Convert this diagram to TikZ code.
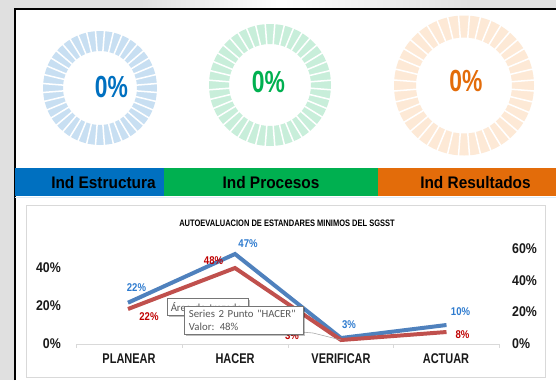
\documentclass[tikz,border=0pt]{standalone}
\usepackage{fontspec}
\setmainfont{Liberation Sans}
\newfontfamily\tipfont{Carlito}
\usetikzlibrary{shadows}
\definecolor{bggray}{HTML}{E0E0E0}
\definecolor{bluelt}{HTML}{C8DFF2}
\definecolor{greenlt}{HTML}{C8EEDA}
\definecolor{orangelt}{HTML}{FDE9D6}
\definecolor{dblue}{HTML}{0070C0}
\definecolor{dgreen}{HTML}{00B050}
\definecolor{dorange}{HTML}{E36C0A}
\definecolor{sblue}{HTML}{4F81BD}
\definecolor{sred}{HTML}{C0504D}
\definecolor{lblue}{HTML}{2E7BCF}
\definecolor{lred}{HTML}{C00000}
\definecolor{boxgray}{HTML}{D9D9D9}
\definecolor{tipgray}{HTML}{767676}
\definecolor{tiptext}{HTML}{575757}
\begin{document}
\begin{tikzpicture}[x=0.03cm, y=-0.03cm,
  pct/.style={font=\fontsize{26}{26}\selectfont\bfseries, xscale=0.75, inner sep=0pt},
  band/.style={font=\fontsize{14.3}{15}\selectfont\bfseries, xscale=0.92, inner sep=0pt},
  ax/.style={font=\fontsize{12}{12}\selectfont\bfseries, xscale=0.88, inner sep=0pt, text=black!90},
  cat/.style={font=\fontsize{12}{12}\selectfont\bfseries, xscale=0.78, inner sep=0pt, text=black!90},
  lbl/.style={font=\fontsize{9.6}{10}\selectfont\bfseries, xscale=0.85, inner sep=0pt},
  series/.style={line width=3.4pt, line join=miter},
  tip/.style={draw=tipgray, fill=white, font=\tipfont\fontsize{9.2}{11}\selectfont, text=tiptext, align=left, anchor=north west, drop shadow={shadow xshift=1.5pt, shadow yshift=-1.5pt, fill=black, opacity=0.25}}
]
\useasboundingbox (0,0) rectangle (556,380);
\fill[bggray] (0,0) rectangle (556,380);
\shade[left color=bggray, right color=white!95!bggray] (140,0) rectangle (280,9);
\shade[left color=white!95!bggray, right color=bggray] (280,0) rectangle (470,9);
\fill[white] (15,9) rectangle (556,380);
\draw[line width=1.4pt] (15,380) -- (15,9) -- (556,9);

\begin{scope}[shift={(100,88)}]
\fill[bluelt, even odd rule] (0,0) circle[radius=57] (0,0) circle[radius=37];
\foreach \a in {0,9,...,351} \draw[white, line width=1.3pt] (\a+4.5:36) -- (\a+4.5:58);
\end{scope}
\begin{scope}[shift={(270,85)}]
\fill[greenlt, even odd rule] (0,0) circle[radius=61] (0,0) circle[radius=41];
\foreach \a in {0,9,...,351} \draw[white, line width=1.3pt] (\a+4.5:40) -- (\a+4.5:62);
\end{scope}
\begin{scope}[shift={(464,85.5)}]
\fill[orangelt, even odd rule] (0,0) circle[radius=70] (0,0) circle[radius=48];
\foreach \a in {0,9,...,351} \draw[white, line width=1.3pt] (\a+4.5:47) -- (\a+4.5:71);
\end{scope}
\node[pct, text=dblue] (pctE) at (111.5,87) {0\%};
\node[pct, text=dgreen] (pctP) at (268.5,82.5) {0\%};
\node[pct, text=dorange] (pctR) at (466,81) {0\%};

\fill[dblue] (15,168) rectangle (164,196);
\fill[dgreen] (164,168) rectangle (378,196);
\fill[dorange] (378,168) rectangle (556,196);
\draw[bluelt!60] (15,197) -- (556,197);
\node[band] (bandE) at (103.5,183) {Ind Estructura};
\node[band] (bandP) at (271,183) {Ind Procesos};
\node[band] (bandR) at (475.5,183) {Ind Resultados};

\draw[boxgray, fill=white] (26,205) rectangle (545,377);
\node[font=\fontsize{8}{8}\selectfont\bfseries, xscale=0.8, inner sep=0pt] (title) at (287,223) {AUTOEVALUACION DE ESTANDARES MINIMOS DEL SGSST};

\node[ax, anchor=east] (l40) at (61,268) {40\%};
\node[ax, anchor=east] (l20) at (61,306) {20\%};
\node[ax, anchor=east] (l0) at (61,344) {0\%};
\node[ax, anchor=west] (r60) at (512,249) {60\%};
\node[ax, anchor=west] (r40) at (512,281) {40\%};
\node[ax, anchor=west] (r20) at (512,312) {20\%};
\node[ax, anchor=west] (r0) at (512,344) {0\%};

\draw[boxgray] (76,344) -- (499,344);
\foreach \x in {76,182,288,393,499} \draw[boxgray] (\x,344) -- (\x,348);
\node[cat] (cPlan) at (129,359) {PLANEAR};
\node[cat] (cHac) at (235,359) {HACER};
\node[cat] (cVer) at (341,359) {VERIFICAR};
\node[cat] (cAct) at (446,359) {ACTUAR};

\coordinate (b1) at (128,302.7);
\coordinate (b2) at (235,254);
\coordinate (b3) at (341,338);
\coordinate (b4) at (446.5,325);
\coordinate (r1) at (128,309);
\coordinate (r2) at (235,268);
\coordinate (r3v) at (341,340);
\coordinate (r4) at (446.5,332);
\draw[series, sblue] (b1) -- (b2) -- (b3) -- (b4);
\draw[series, sred] (r1) -- (r2) -- (r3v) -- (r4);

\node[lbl, text=lblue] (lb1) at (136.5,288) {22\%};
\node[lbl, text=lblue] (lb2) at (248,244) {47\%};
\node[lbl, text=lblue] (lb3) at (349,325) {3\%};
\node[lbl, text=lblue] (lb4) at (460.5,312) {10\%};
\node[lbl, text=lred] (lr1) at (149,317) {22\%};
\node[lbl, text=lred] (lr2) at (213.5,261) {48\%};
\node[lbl, text=lred] (lr3) at (292,336) {3\%};
\node[lbl, text=lred] (lr4) at (462.5,335) {8\%};
\coordinate (lead) at (313,333);
\draw[black!35, line width=0.5pt] (lr3.north east) -- (lead) -- (r3v);

\node[tip, inner xsep=3pt, text width=63pt, minimum height=13.7pt] (tipArea) at (167,298) {Área de trazado};
\node[tip, inner xsep=4pt, text width=93.6pt, minimum height=23pt] (tipSerie) at (184,306) {Series 2 Punto "HACER"\\Valor: 48\%};
\end{tikzpicture}
\end{document}
